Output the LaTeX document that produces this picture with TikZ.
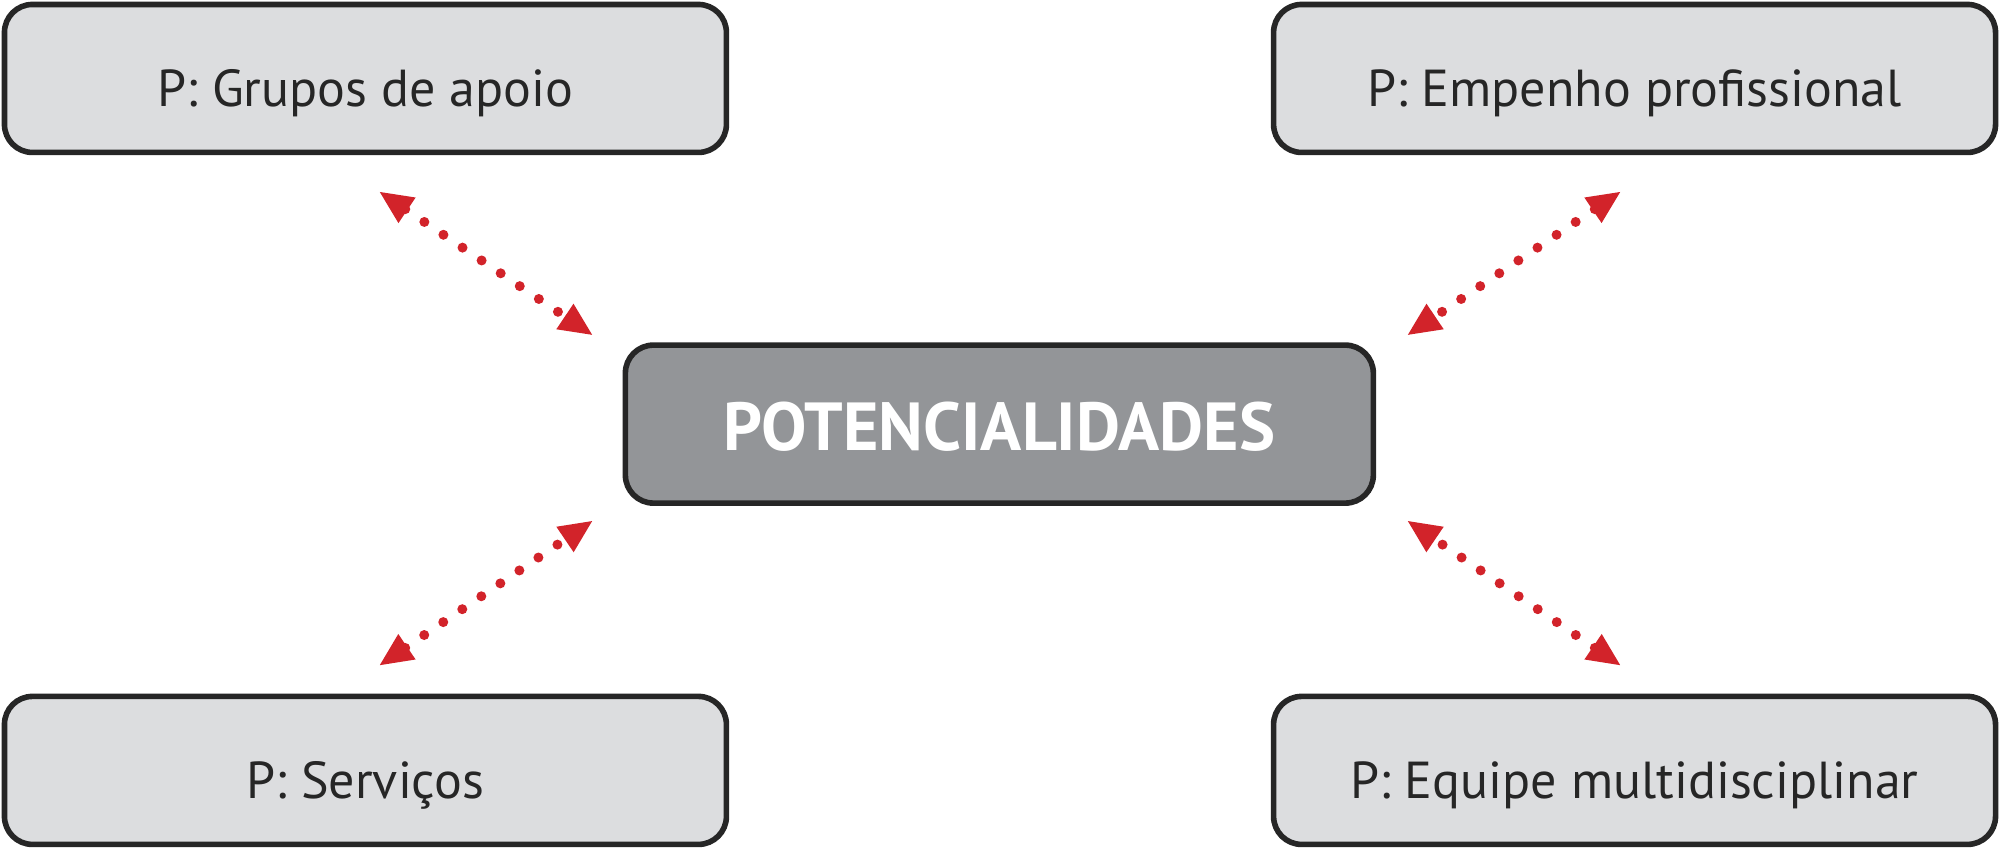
\documentclass[tikz,border=0pt]{standalone}
\usepackage{fontspec}
\setmainfont{PT Sans}
\usetikzlibrary{arrows.meta}
\definecolor{boxg}{HTML}{DCDDDF}
\definecolor{cg}{HTML}{939598}
\definecolor{ared}{HTML}{D2232A}
\newcommand{\lowtxt}[2]{\raisebox{#1}[0pt][0pt]{#2}}
\tikzset{
 pbox/.style={draw=black!85,line width=2.8pt,fill=boxg,rounded corners=14pt,minimum width=361pt,minimum height=74pt,font=\fontsize{26}{30}\selectfont,text=black!85},
 cbox/.style={draw=black!85,line width=2.8pt,fill=cg,rounded corners=14pt,minimum width=374pt,minimum height=79pt,font=\fontsize{34}{40}\selectfont\bfseries,text=white},
 darr/.style={ared,line width=5pt,line cap=round,dash pattern=on 0pt off 11.5pt,{Triangle[length=17pt,width=14pt,line cap=butt]}-{Triangle[length=17pt,width=14pt,line cap=butt]},shorten <=0pt,shorten >=0pt}
}
\begin{document}
\begin{tikzpicture}[x=0.6378pt,y=-0.6378pt]
\useasboundingbox (0,0) rectangle (1568,666);
\node[pbox] (tl) at (286.5,61.5) {\lowtxt{-14pt}{P: Grupos de apoio}};
\node[pbox] (tr) at (1281.5,61.5) {\lowtxt{-14pt}{P: Empenho profissional}};
\node[pbox] (bl) at (286.5,604) {\lowtxt{-14pt}{P: Serviços}};
\node[pbox] (br) at (1281.5,604) {\lowtxt{-14pt}{P: Equipe multidisciplinar}};
\node[cbox] (c) at (783.5,332.5) {\lowtxt{-13pt}{POTENCIALIDADES}};
\coordinate (a1) at (297,150); \coordinate (b1) at (465,263);
\coordinate (a2) at (1271,150); \coordinate (b2) at (1103,263);
\coordinate (a3) at (297,522); \coordinate (b3) at (465,408);
\coordinate (a4) at (1271,522); \coordinate (b4) at (1103,408);
\foreach \i in {1,...,4}{\draw[darr] (a\i) -- (b\i);}
\end{tikzpicture}
\end{document}
